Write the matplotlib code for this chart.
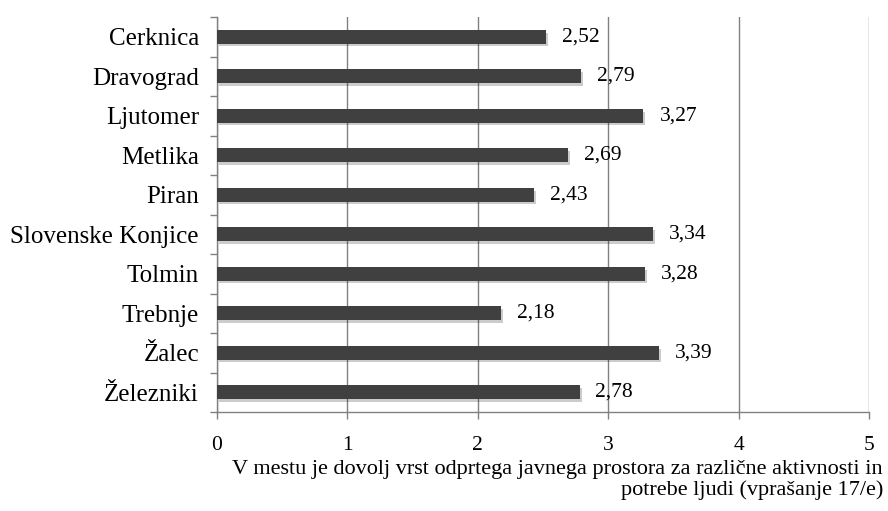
import matplotlib
matplotlib.use("Agg")
import matplotlib.pyplot as plt
import matplotlib.patheffects as pe
import numpy as np

categories = ["Cerknica", "Dravograd", "Ljutomer", "Metlika", "Piran",
              "Slovenske Konjice", "Tolmin", "Trebnje", "Žalec", "Železniki"]
values = [2.52, 2.79, 3.27, 2.69, 2.43, 3.34, 3.28, 2.18, 3.39, 2.78]
value_labels = ["2,52", "2,79", "3,27", "2,69", "2,43", "3,34", "3,28", "2,18", "3,39", "2,78"]
xticks = [0, 1, 2, 3, 4, 5]
xlabel = "V mestu je dovolj vrst odprtega javnega prostora za različne aktivnosti in\npotrebe ljudi (vprašanje 17/e)"

plt.rcParams['font.family'] = ['Liberation Serif', 'DejaVu Serif']

fig = plt.figure(figsize=(8.88, 5.11), dpi=100)
ax = fig.add_axes([217/888, 1-412/511, (869-217)/888, (412-17)/511])

y = np.arange(len(categories))
bars = ax.barh(y, values, height=0.35, color="#404040", zorder=3)
for b in bars:
    b.set_path_effects([pe.SimplePatchShadow(offset=(1.5, -2), shadow_rgbFace="#000000", alpha=0.2), pe.Normal()])

for yi, v, lab in zip(y, values, value_labels):
    ax.annotate(lab, xy=(v, yi), xytext=(11.5, 0), textcoords="offset points",
                va="center", ha="left", fontsize=15.5, color="black", zorder=4)

ax.set_ylim(len(categories) - 0.5, -0.5)
ax.set_xlim(0, 5)
ax.set_xticks(xticks)
ax.set_xticklabels([str(t) for t in xticks], fontsize=15.5)
ax.set_yticks(y)
ax.set_yticklabels(categories, fontsize=18)
ax.set_yticks(np.arange(len(categories) + 1) - 0.5, minor=True)
ax.tick_params(axis="y", which="major", length=0, pad=13)
ax.tick_params(axis="y", which="minor", length=5, color="#808080", width=1)
ax.tick_params(axis="x", which="major", length=5, color="#808080", width=1, pad=12)

ax.grid(axis="x", color="#808080", linewidth=1, zorder=0)
for s in ["top", "right"]:
    ax.spines[s].set_visible(False)
for s in ["left", "bottom"]:
    ax.spines[s].set_color("#808080")
    ax.spines[s].set_linewidth(1)

fig.text(883/888, 1-460/511, xlabel, ha="right", va="top", fontsize=16,
         multialignment="right", linespacing=1.1)

fig.savefig("out.png", dpi=100)
